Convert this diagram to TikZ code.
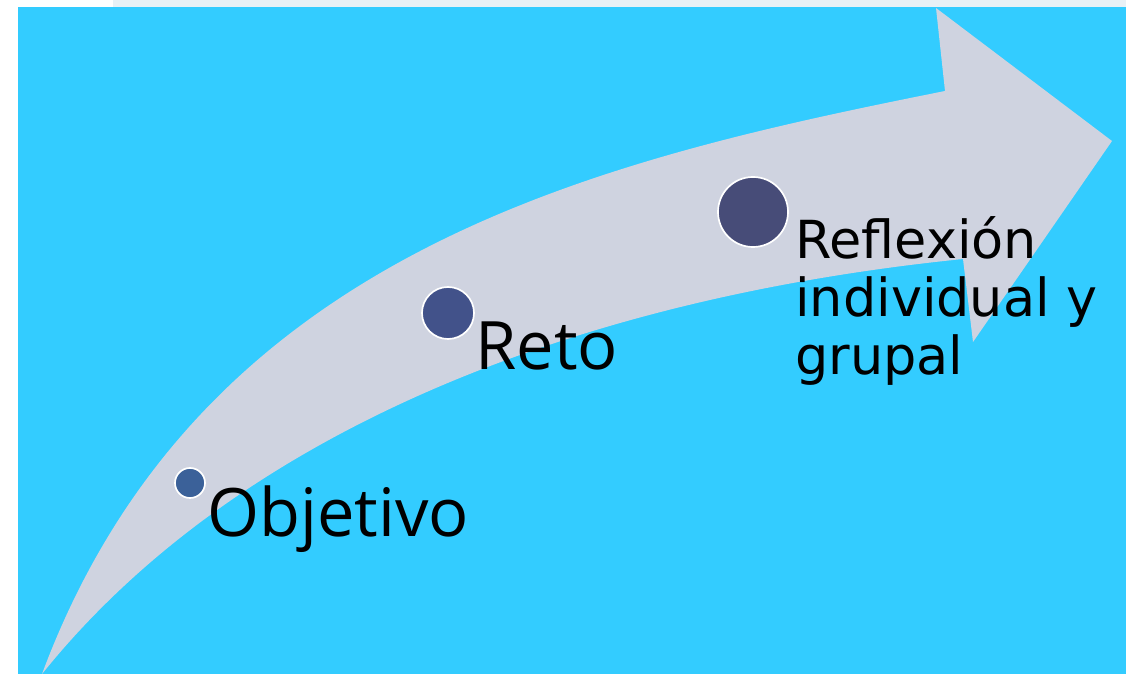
\documentclass[tikz,border=0pt]{standalone}
\usepackage{fontspec}
\setmainfont{Open Sans}
\newfontfamily\wide{DejaVu Sans}
\definecolor{sky}{HTML}{33CCFF}
\definecolor{band}{HTML}{CFD3E0}
\definecolor{strip}{HTML}{E8F1F6}
\definecolor{dotone}{HTML}{3B6199}
\definecolor{dottwo}{HTML}{42528A}
\definecolor{dotthree}{HTML}{474C78}
\tikzset{
  stage/.style={circle,fill=#1,draw=white,line width=1.2pt,inner sep=0pt},
  word/.style={anchor=base west,inner sep=0pt,font=\fontsize{47.5}{57}\selectfont}
}

\begin{document}
\begin{tikzpicture}[x=0.025cm,y=-0.025cm]
            \useasboundingbox (0,0) rectangle (1126,674);
            \fill[strip] (113,0) rectangle (1126,7);
            \fill[sky] (18,7) rectangle (1126,674);
            % curved arrow
            \fill[band] (42,674) .. controls (200,250) and (600,160) .. (945,91)
                -- (936,8) -- (1112,141) -- (973,342) -- (963,259)
                .. controls (560,300) and (230,440) .. (42,674) -- cycle;
            \node[stage=dotone,minimum size=0.75cm] (objetivo) at (190,483){};
            \node[stage=dottwo,minimum size=1.3cm] (reto) at (448,313){};
            \node[stage=dotthree,minimum size=1.75cm] (reflexion) at (753,212){};
            \node[word] (objetivotext) at (207,537) {Objetivo};
            \node[word] (retotext) at (475,370) {Reto};
            \node[word,align=left,font=\wide\fontsize{37.3}{41.3}\selectfont] (reflexiontext) at (795,375) {Reflexión\\individual y\\grupal};
\end{tikzpicture}
\end{document}
